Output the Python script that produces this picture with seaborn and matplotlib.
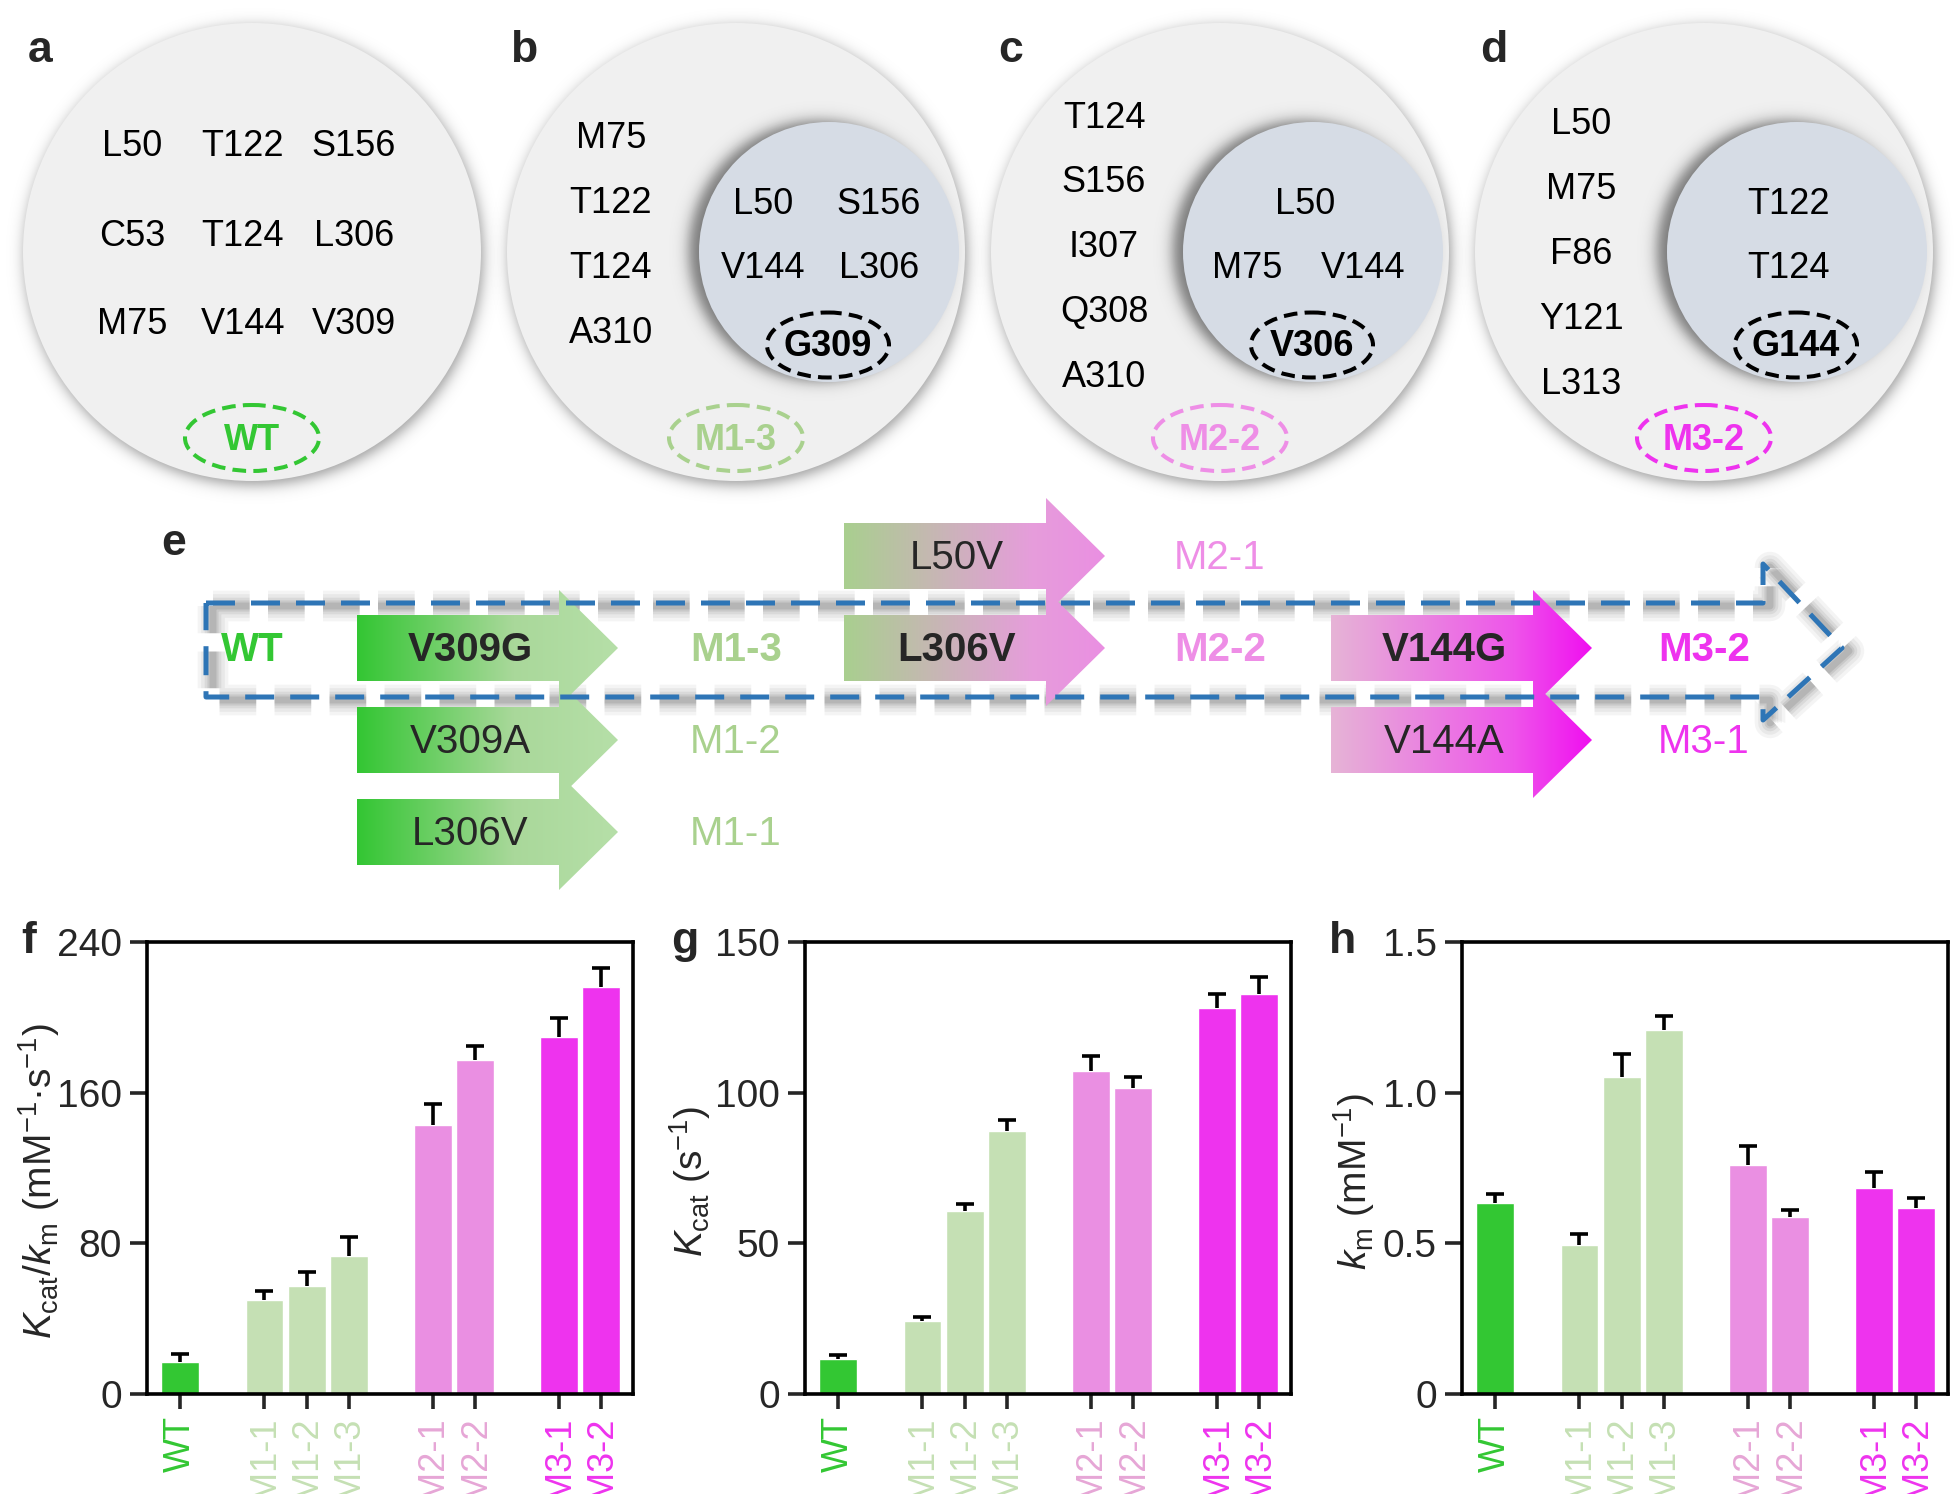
import numpy as np
import pandas as pd
import matplotlib
matplotlib.use("Agg")
import matplotlib.pyplot as plt
from matplotlib import patches
from matplotlib.colors import to_rgb
import seaborn as sns

# ---------------- data ----------------
variants = ["WT", "M1-1", "M1-2", "M1-3", "M2-1", "M2-2", "M3-1", "M3-2"]
groups = ["WT", "M1", "M1", "M1", "M2", "M2", "M3", "M3"]
kcat_km = [17.0, 49.8, 57.6, 73.1, 142.7, 177.6, 189.4, 216.0]
kcat_km_err = [4.5, 4.9, 7.3, 10.0, 11.1, 7.0, 10.4, 10.4]
kcat = [11.6, 24.3, 60.8, 87.3, 107.1, 101.4, 128.1, 132.9]
kcat_err = [1.2, 1.3, 2.1, 3.5, 5.1, 3.7, 4.5, 5.5]
km = [0.634, 0.495, 1.053, 1.207, 0.761, 0.586, 0.682, 0.617]
km_err = [0.031, 0.037, 0.075, 0.049, 0.061, 0.026, 0.056, 0.033]

# residue sets (panels a-d)
wt_grid = [["L50", "T122", "S156"], ["C53", "T124", "L306"], ["M75", "V144", "V309"]]
b_outer = ["M75", "T122", "T124", "A310"]
b_inner = [["L50", "S156"], ["V144", "L306"]]
c_outer = ["T124", "S156", "I307", "Q308", "A310"]
c_inner = [["L50"], ["M75", "V144"]]
d_outer = ["L50", "M75", "F86", "Y121", "L313"]
d_inner = [["T122"], ["T124"]]
key_mut = ["G309", "V306", "G144"]
panel_names = ["WT", "M1-3", "M2-2", "M3-2"]

# evolution path (panel e)
stage1_mut = ["V309G", "V309A", "L306V"]
stage1_out = ["M1-3", "M1-2", "M1-1"]
stage2_mut = ["L50V", "L306V"]
stage2_out = ["M2-1", "M2-2"]
stage3_mut = ["V144G", "V144A"]
stage3_out = ["M3-2", "M3-1"]

# ---------------- style ----------------
sns.set_theme(style="ticks")
plt.rcParams["font.family"] = ["Liberation Sans", "DejaVu Sans"]
plt.rcParams["mathtext.fontset"] = "custom"
plt.rcParams["mathtext.rm"] = "Liberation Sans"
plt.rcParams["mathtext.it"] = "Liberation Sans:italic"
plt.rcParams["mathtext.bf"] = "Liberation Sans:bold"

C_WT = "#33c733"
C_M1 = "#c5e0b4"
C_M1T = "#a9d18e"
C_M2 = "#ea8fe2"
C_M2T = "#e6a6d6"
C_M3 = "#ee33ee"
group_colors = {"WT": C_WT, "M1": C_M1, "M2": C_M2, "M3": C_M3}
label_colors = {"WT": C_WT, "M1": C_M1, "M2": C_M2T, "M3": C_M3}
name_colors = {"WT": C_WT, "M1-3": C_M1T, "M2-2": "#ee8ee6", "M3-2": C_M3}

W, H = 1956, 1494
fig = plt.figure(figsize=(W / 100, H / 100), dpi=100)
fig.patch.set_facecolor("white")

ax0 = fig.add_axes([0, 0, 1, 1], zorder=0)
ax0.set_xlim(0, W)
ax0.set_ylim(H, 0)
ax0.axis("off")


def soft_shadow(ax, cx, cy, r, blur, strength, dx=0.0, dy=0.0, z=1):
    pad = int(4 * blur + abs(dx) + abs(dy) + 4)
    x0, x1 = int(cx - r - pad), int(cx + r + pad)
    y0, y1 = int(cy - r - pad), int(cy + r + pad)
    xs = np.arange(x0, x1) + 0.5
    ys = np.arange(y0, y1) + 0.5
    X, Y = np.meshgrid(xs, ys)
    d = np.hypot(X - cx - dx, Y - cy - dy) - r
    a = strength / (1.0 + np.exp(np.clip(d / (0.6 * blur), -50, 50)))
    img = np.zeros(X.shape + (4,))
    img[..., 3] = a
    ax.imshow(img, extent=(x0, x1, y1, y0), origin="upper",
              interpolation="bilinear", zorder=z, aspect="auto")


def txt(x, y, s, size=26, color="black", weight="normal", ha="center", va="center", z=10):
    ax0.text(x, y, s, fontsize=size, color=color, fontweight=weight,
             ha=ha, va=va, zorder=z)


def oval(cx, cy, w, h, color, z=9):
    ax0.add_patch(patches.Ellipse((cx, cy), w, h, fill=False, edgecolor=color,
                                  lw=2.9, linestyle=(0, (3.4, 1.8)), zorder=z))


# ---------------- panels a-d ----------------
outer_cx = [252, 736, 1220, 1704]
cy0 = 252
R_out = 229
R_in = 130
for cx in outer_cx:
    soft_shadow(ax0, cx, cy0, R_out, 7, 0.4, dx=2, dy=4, z=1)
    ax0.add_patch(patches.Circle((cx, cy0), R_out, facecolor="#f0f0f0",
                                 edgecolor="none", zorder=2))
for cx in outer_cx[1:]:
    icx = cx + 93
    soft_shadow(ax0, icx, cy0, R_in, 7, 0.5, dx=-10, dy=-1, z=3)
    ax0.add_patch(patches.Circle((icx, cy0), R_in, facecolor="#d6dce5",
                                 edgecolor="none", zorder=4))

for lab, cx in zip("abcd", [28, 510, 998, 1480]):
    ax0.text(cx, 62, lab, fontsize=32, fontweight="bold", ha="left",
             va="baseline", zorder=10)

# a
for i, row in enumerate(wt_grid):
    for j, s in enumerate(row):
        txt(outer_cx[0] - 9 + (j - 1) * 111, 147 + i * 89, s)

# outer columns b-d
for k, (lst, y_start, xo) in enumerate([(b_outer, 139, -125), (c_outer, 118, -116),
                                       (d_outer, 125, -123)]):
    cx = outer_cx[k + 1]
    for i, s in enumerate(lst):
        txt(cx + xo, y_start + i * 64.8, s)

# inner text
for k, rows in enumerate([b_inner, c_inner, d_inner]):
    icx = outer_cx[k + 1] + 93 - 8
    for i, row in enumerate(rows):
        n = len(row)
        for j, s in enumerate(row):
            off = 0 if n == 1 else (j - 0.5) * 116
            txt(icx + off, 204 + i * 65, s)
    mcx = outer_cx[k + 1] + 92
    txt(mcx, 347, key_mut[k], weight="bold")
    oval(mcx, 345, 122, 65, "black")

for k, name in enumerate(panel_names):
    cx = outer_cx[k]
    col = name_colors[name]
    txt(cx, 440, name, color=col, weight="bold")
    oval(cx, 438, 134, 66, col)

# ---------------- panel e ----------------
ax0.text(161, 555, "e", fontsize=32, fontweight="bold", ha="left", va="baseline", zorder=10)

row_y0, row_dy = 648, 92
body_len, head_len, bh, hh = 202, 59, 33, 58
stage_x0 = [357, 844, 1331]

# dashed guide arrow shadow + line
px = np.array([206, 1763, 1763, 1842, 1763, 1763, 206, 206], dtype=float)
py = np.array([603, 603, 564, 648, 720, 697, 697, 603], dtype=float)
for lw, al in [(22, 0.05), (17, 0.06), (12, 0.08), (8, 0.10), (5, 0.12)]:
    ax0.plot(px + 7, py + 3, color="0.2", lw=lw, alpha=al, solid_capstyle="round",
             dashes=(22.0 / lw * 1.2, 11.0 / lw * 1.2), zorder=5)


def grad_arrow(x0, yc, colors, stops, z):
    verts = [(x0, yc - bh), (x0 + body_len, yc - bh), (x0 + body_len, yc - hh),
             (x0 + body_len + head_len, yc), (x0 + body_len, yc + hh),
             (x0 + body_len, yc + bh), (x0, yc + bh)]
    poly = patches.Polygon(verts, closed=True, facecolor="none", edgecolor="none", zorder=z)
    ax0.add_patch(poly)
    t = np.linspace(0, 1, 300)
    cols = [to_rgb(c) for c in colors]
    rgb = np.stack([np.interp(t, stops, [c[i] for c in cols]) for i in range(3)], axis=-1)
    im = ax0.imshow(rgb[None, :, :], extent=(x0, x0 + body_len + head_len, yc + hh, yc - hh),
                    origin="upper", aspect="auto", interpolation="bilinear", zorder=z)
    im.set_clip_path(poly)


stage_specs = [
    (stage1_mut, stage1_out, [0, 1, 2], ["#33c633", "#a9d89a", "#b6dfa8"], [0, 0.6, 1], C_M1T),
    (stage2_mut, stage2_out, [-1, 0], ["#a9cf8f", "#e69ddb", "#ea8fe2"], [0, 0.72, 1], "#ee8ee6"),
    (stage3_mut, stage3_out, [0, 1], ["#e6b4d6", "#ee55ea", "#f00ff0"], [0, 0.7, 1], C_M3),
]
for s, (muts, outs, rows, cols, stops, ocol) in enumerate(stage_specs):
    x0 = stage_x0[s]
    for m, o, r in zip(muts, outs, rows):
        yc = row_y0 + r * row_dy
        grad_arrow(x0, yc, cols, stops, z=6 + 0.1 * (3 - abs(r)))
        bold = "bold" if r == 0 else "normal"
        ax0.text(x0 + 113, yc + 2, m, fontsize=29, fontweight=bold, ha="center",
                 va="center", zorder=8)
        ax0.text(outer_cx[s + 1], yc + 2, o, fontsize=29, fontweight=bold, color=ocol,
                 ha="center", va="center", zorder=8)
ax0.text(252, row_y0 + 2, "WT", fontsize=29, fontweight="bold", color=C_WT,
         ha="center", va="center", zorder=8)

ax0.plot(px, py, color="#2e75b6", lw=3.6, dashes=(5.8, 3.2), solid_capstyle="butt",
         zorder=7.5)

ax0.set_xlim(0, W)
ax0.set_ylim(H, 0)

# ---------------- bar panels f-h ----------------
pos = []
p = 0
prev = None
for g in groups:
    if prev is not None:
        p += 1 if g == prev else 2
    pos.append(p)
    prev = g

df_base = pd.DataFrame({"pos": pos, "variant": variants, "group": groups})

ax_w = 486 / W
ax_h = (1394 - 942) / H
ax_b = 1 - 1394 / H
panels = [
    ("f", 147, kcat_km, kcat_km_err, 240, [0, 80, 160, 240], ["0", "80", "160", "240"],
     r"$K_{\mathrm{cat}}/k_{\mathrm{m}}$ (mM$^{-1}$·s$^{-1}$)", 21, -0.175),
    ("g", 805, kcat, kcat_err, 150, [0, 50, 100, 150], ["0", "50", "100", "150"],
     r"$K_{\mathrm{cat}}$ (s$^{-1}$)", 671, -0.19),
    ("h", 1462, km, km_err, 1.5, [0, 0.5, 1.0, 1.5], ["0", "0.5", "1.0", "1.5"],
     r"$k_{\mathrm{m}}$ (mM$^{-1}$)", 1329, -0.175),
]
for lab, left, vals, errs, ytop, yt, ytl, ylab, lx, lcx in panels:
    ax = fig.add_axes([left / W, ax_b, ax_w, ax_h], zorder=3)
    df = df_base.copy()
    df["value"] = vals
    sns.barplot(data=df, x="pos", y="value", hue="group", palette=group_colors,
                native_scale=True, width=0.9, dodge=False, errorbar=None,
                legend=False, saturation=1, edgecolor="white", linewidth=1.0, ax=ax)
    eb = ax.errorbar(pos, vals, yerr=[np.zeros(len(vals)), errs], fmt="none",
                     ecolor="black", elinewidth=2.6, capsize=6.8, capthick=2.6, zorder=1)
    for cl in eb[1]:
        if np.allclose(cl.get_ydata(), vals):
            cl.set_visible(False)
    ax.set_xlim(-0.79, 10.75)
    ax.set_ylim(0, ytop)
    ax.set_yticks(yt)
    ax.set_yticklabels(ytl)
    ax.set_xticks(pos)
    ax.set_xticklabels(variants, rotation=90)
    for tl, g in zip(ax.get_xticklabels(), groups):
        tl.set_color(label_colors[g])
    ax.tick_params(axis="y", length=12, width=2.6, labelsize=28, pad=6)
    ax.tick_params(axis="x", length=11, width=2.6, labelsize=26, pad=5)
    for sp in ax.spines.values():
        sp.set_linewidth(2.6)
        sp.set_color("black")
        sp.set_visible(True)
    ax.set_xlabel("")
    ax.set_ylabel(ylab, fontsize=28)
    ax.yaxis.set_label_coords(lcx, 0.47)
    ax.set_facecolor("none")
    ax0.text(lx, 953, lab, fontsize=32, fontweight="bold", ha="left", va="baseline", zorder=10)

fig.savefig("out.png", dpi=100, facecolor="white")
